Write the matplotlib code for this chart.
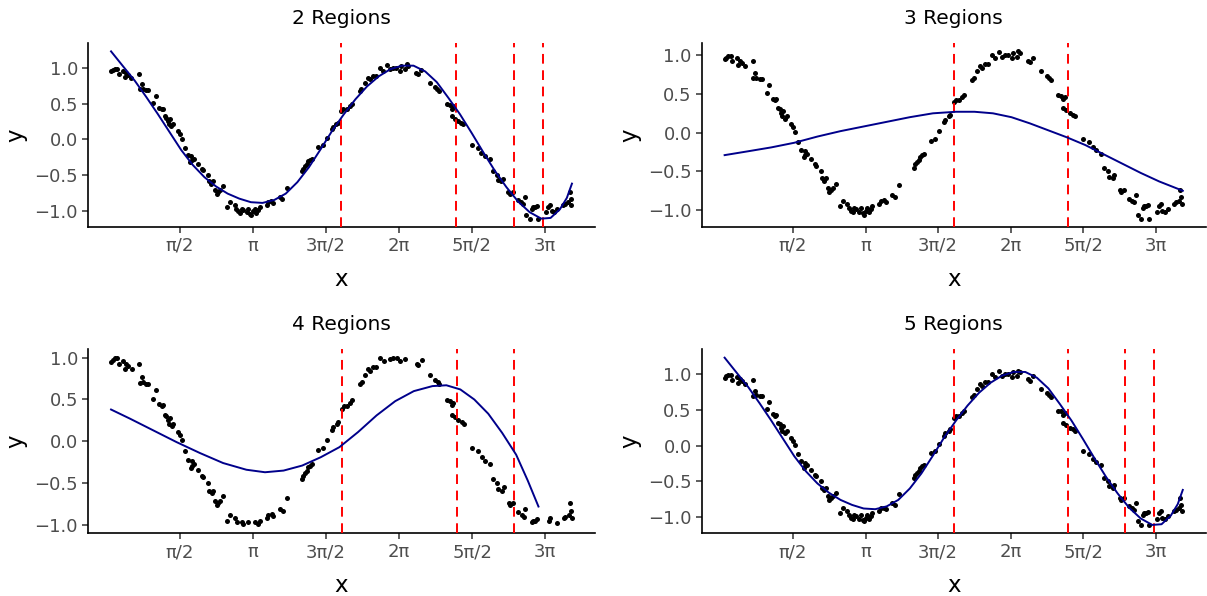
import numpy as np
import matplotlib
matplotlib.use("Agg")
import matplotlib.pyplot as plt
from matplotlib import rcParams

rcParams['font.family'] = ['DejaVu Sans']

# observed points (same sample in every panel)
x_obs = [0.09, 0.13, 0.17, 0.22, 0.26, 0.35, 0.39, 0.42, 0.46, 0.53,
         0.70, 0.71, 0.75, 0.78, 0.85, 0.89, 1.00, 1.05, 1.13, 1.18,
         1.21, 1.25, 1.28, 1.31, 1.33, 1.36, 1.39, 1.43, 1.53, 1.57,
         1.61, 1.68, 1.75, 1.82, 1.87, 1.80, 1.84, 1.96, 2.04, 2.07,
         2.18, 2.20, 2.25, 2.29, 2.32, 2.36, 2.40, 2.43, 2.50, 2.58,
         2.65, 2.75, 2.79, 2.83, 2.86, 2.90, 2.93, 3.01, 3.04, 3.08,
         3.11, 3.15, 3.18, 3.22, 3.26, 3.29, 3.44, 3.47, 3.54, 3.58,
         3.72, 3.78, 3.87, 4.19, 4.22, 4.26, 4.30, 4.33, 4.37, 4.41,
         4.55, 4.65, 4.73, 4.84, 4.87, 4.94, 4.98, 5.05, 5.09, 5.16,
         5.23, 5.27, 5.44, 5.48, 5.55, 5.62, 5.66, 5.73, 5.79, 5.87,
         5.95, 6.03, 6.09, 6.16, 6.23, 6.31, 6.34, 6.41, 6.45, 6.48,
         6.66, 6.70, 6.77, 6.95, 7.06, 7.11, 7.15, 7.31, 7.38, 7.42,
         7.45, 7.42, 7.49, 7.56, 7.63, 7.67, 7.85, 7.99, 8.06, 8.13,
         8.24, 8.31, 8.39, 8.42, 8.49, 8.53, 8.64, 8.67, 8.74, 8.85,
         8.92, 9.00, 8.96, 9.03, 9.10, 9.14, 9.17, 9.21, 9.25, 9.28,
         9.46, 9.50, 9.53, 9.57, 9.63, 9.68, 9.82, 9.86, 9.93, 9.96,
         9.98, 10.00]
y_obs = [0.95, 0.97, 0.99, 0.99, 0.92, 0.96, 0.87, 0.93, 0.90, 0.86,
         0.92, 0.70, 0.77, 0.71, 0.69, 0.69, 0.51, 0.61, 0.44, 0.42,
         0.43, 0.32, 0.30, 0.25, 0.21, 0.28, 0.18, 0.21, 0.11, 0.07,
         0.01, -0.12, -0.22, -0.24, -0.27, -0.32, -0.29, -0.34, -0.41, -0.43,
         -0.50, -0.59, -0.62, -0.59, -0.71, -0.76, -0.74, -0.71, -0.66, -0.95,
         -0.88, -0.92, -0.97, -1.01, -1.03, -0.97, -0.99, -1.02, -0.97, -1.04,
         -1.06, -1.01, -0.97, -1.03, -0.99, -0.95, -0.92, -0.88, -0.87, -0.89,
         -0.81, -0.83, -0.68, -0.45, -0.41, -0.38, -0.35, -0.31, -0.29, -0.27,
         -0.11, -0.08, 0.02, 0.14, 0.17, 0.21, 0.23, 0.39, 0.42, 0.42,
         0.46, 0.49, 0.68, 0.71, 0.79, 0.86, 0.84, 0.89, 0.89, 1.00,
         0.96, 1.04, 0.98, 1.00, 1.00, 0.96, 1.03, 0.98, 1.05, 1.03,
         0.93, 0.91, 0.97, 0.79, 0.73, 0.71, 0.68, 0.49, 0.48, 0.43,
         0.46, 0.32, 0.29, 0.25, 0.23, 0.21, -0.08, -0.12, -0.19, -0.23,
         -0.27, -0.45, -0.50, -0.57, -0.59, -0.55, -0.74, -0.76, -0.74, -0.85,
         -0.88, -0.81, -0.90, -1.06, -1.11, -0.97, -0.95, -0.95, -0.93, -1.11,
         -1.02, -0.95, -0.92, -1.01, -1.02, -0.98, -0.92, -0.90, -0.88, -0.74,
         -0.83, -0.92]

# fitted curves
fit_2_x = [0.09, 0.35, 0.60, 0.85, 1.10, 1.35, 1.60, 1.85, 2.10, 2.35, 2.60, 2.85,
           3.10, 3.35, 3.60, 3.85, 4.10, 4.35, 4.60, 4.85, 5.10, 5.35, 5.60, 5.85,
           6.10, 6.35, 6.60, 6.85, 7.10, 7.35, 7.60, 7.85, 8.10, 8.35, 8.60, 8.85,
           9.10, 9.35, 9.55, 9.75, 9.90, 10.01]
fit_2_y = [1.23, 1.02, 0.82, 0.59, 0.35, 0.10, -0.15, -0.36, -0.53, -0.66, -0.76, -0.83,
           -0.88, -0.89, -0.85, -0.76, -0.60, -0.39, -0.14, 0.12, 0.35, 0.56, 0.74, 0.88,
           0.98, 1.03, 1.03, 0.95, 0.80, 0.58, 0.35, 0.09, -0.18, -0.44, -0.67, -0.87,
           -1.02, -1.11, -1.10, -0.98, -0.82, -0.62]

fit_3_x = [0.09, 0.60, 1.10, 1.60, 2.10, 2.60, 3.10, 3.60, 4.10, 4.60, 5.10, 5.50,
           5.90, 6.30, 6.70, 7.10, 7.50, 7.90, 8.30, 8.70, 9.10, 9.50, 10.01]
fit_3_y = [-0.29, -0.24, -0.19, -0.13, -0.05, 0.02, 0.08, 0.14, 0.20, 0.25, 0.27, 0.27,
           0.25, 0.20, 0.12, 0.03, -0.06, -0.16, -0.28, -0.40, -0.52, -0.63, -0.75]

fit_4_x = [0.09, 0.50, 1.00, 1.50, 2.00, 2.50, 3.00, 3.40, 3.80, 4.20, 4.60, 5.00,
           5.40, 5.80, 6.20, 6.60, 7.00, 7.30, 7.60, 7.90, 8.20, 8.50, 8.80, 9.05, 9.28]
fit_4_y = [0.38, 0.27, 0.13, -0.01, -0.14, -0.26, -0.34, -0.37, -0.35, -0.29, -0.19, -0.07,
           0.11, 0.31, 0.48, 0.60, 0.66, 0.67, 0.62, 0.50, 0.33, 0.10, -0.16, -0.47, -0.78]

fit_5_x = fit_2_x
fit_5_y = fit_2_y

knots_2 = [5.05, 7.52, 8.76, 9.38]
knots_3 = [5.05, 7.52]
knots_4 = [5.05, 7.52, 8.76]
knots_5 = [5.05, 7.52, 8.76, 9.38]

titles = ["2 Regions", "3 Regions", "4 Regions", "5 Regions"]
xtick_vals = [np.pi / 2, np.pi, 3 * np.pi / 2, 2 * np.pi, 5 * np.pi / 2, 3 * np.pi]
xtick_labels = ["π/2", "π", "3π/2", "2π", "5π/2", "3π"]
ytick_vals = [-1.0, -0.5, 0.0, 0.5, 1.0]
ytick_labels = ["−1.0", "−0.5", "0.0", "0.5", "1.0"]

W, H = 1207, 596
fig = plt.figure(figsize=(W / 100, H / 100), dpi=100)

boxes = [(88, 227, 507), (701.7, 227, 504), (88, 533.3, 507), (701.7, 533.3, 504)]
fits = [(fit_2_x, fit_2_y), (fit_3_x, fit_3_y), (fit_4_x, fit_4_y), (fit_5_x, fit_5_y)]
knots = [knots_2, knots_3, knots_4, knots_5]

xo = np.array(x_obs)
yo = np.array(y_obs)

for i in range(4):
    left, bottom, width = boxes[i]
    ax = fig.add_axes([left / W, 1 - bottom / H, width / W, 184 / H])

    if i == 2:
        # panel with y limited to [-1, 1]: points outside are dropped
        keep = np.abs(yo) <= 1.0
        ax.scatter(xo[keep], yo[keep], s=13, color='black', linewidths=0, zorder=2)
    else:
        ax.scatter(xo, yo, s=13, color='black', linewidths=0, zorder=2)

    for k in knots[i]:
        ax.axvline(k, color='red', lw=1.4, ls=(0, (5, 3.4)), zorder=3)

    ax.plot(fits[i][0], fits[i][1], color='#00008B', lw=1.4, zorder=4)

    if i == 2:
        ax.set_ylim(-1.1, 1.1)

    ax.set_xticks(xtick_vals)
    ax.set_xticklabels(xtick_labels)
    ax.set_yticks(ytick_vals)
    ax.set_yticklabels(ytick_labels)

    for s in ['top', 'right']:
        ax.spines[s].set_visible(False)
    for s in ['left', 'bottom']:
        ax.spines[s].set_linewidth(1.2)
        ax.spines[s].set_color('black')

    ax.tick_params(length=4, width=1.1, color='#333333', labelcolor='#4D4D4D',
                   labelsize=13, pad=3.2)

    ax.set_xlabel("x", fontsize=16.5, labelpad=9)
    ax.set_ylabel("y", fontsize=16.5, labelpad=5)
    ax.set_title(titles[i], fontsize=14.5, pad=14)

fig.savefig("out.png", dpi=100)
